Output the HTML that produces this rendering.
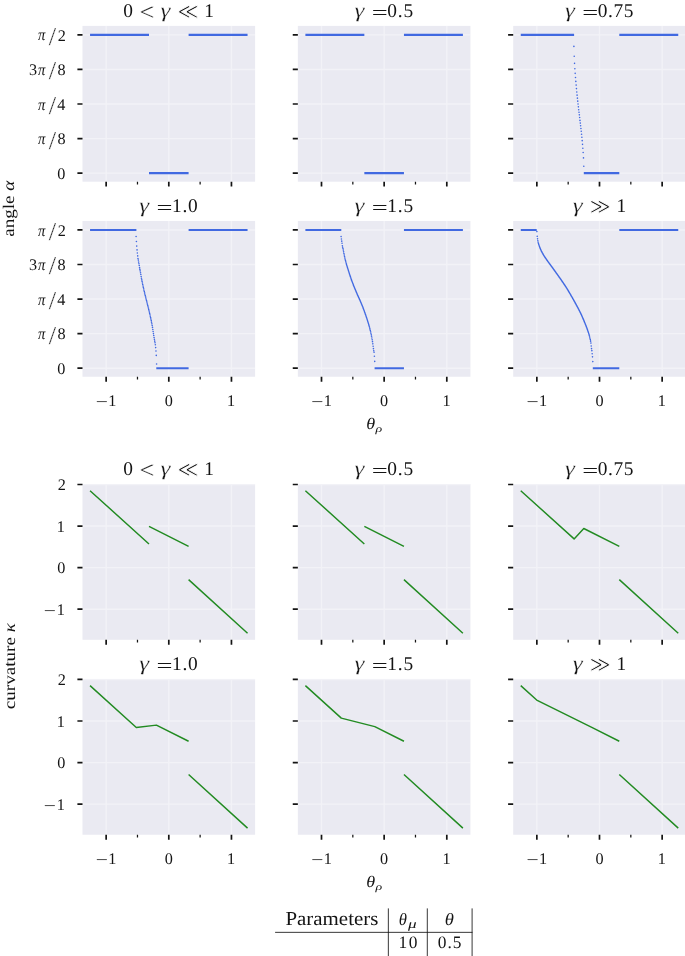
<!DOCTYPE html>
<html lang="en"><head><meta charset="utf-8"><title>angle and curvature</title>
<style>html,body{margin:0;padding:0;background:#fff}body{width:685px;height:956px;overflow:hidden}</style></head>
<body>
<svg width="685" height="956" viewBox="0 0 685 956" text-rendering="geometricPrecision" style="display:block;font-family:'Liberation Serif','DejaVu Serif',serif">
<rect width="685" height="956" fill="#fff"/>
<rect x="82.5" y="25.9" width="172.6" height="155.8" fill="#EAEAF2"/>
<path d="M106.15 25.9V181.7M168.8 25.9V181.7M231.45 25.9V181.7M82.5 34.9H255.1M82.5 69.46H255.1M82.5 104.02H255.1M82.5 138.58H255.1M82.5 173.14H255.1" stroke="#fff" stroke-width="1.4" stroke-opacity="0.4" fill="none"/>
<path d="M106.15 181.7v4.9M168.8 181.7v4.9M231.45 181.7v4.9M82.5 34.9h-5.1M82.5 69.46h-5.1M82.5 104.02h-5.1M82.5 138.58h-5.1M82.5 173.14h-5.1" stroke="#141414" stroke-width="1.7" fill="none"/>
<path d="M137.48 181.7v2.8M200.12 181.7v2.8" stroke="#141414" stroke-width="1.25" fill="none"/>
<path d="M90.05 34.9H149M149 173.14H188.6M188.6 34.9H247.55" stroke="#4169E1" stroke-width="2.1" fill="none"/>
<rect x="297.85" y="25.9" width="172.6" height="155.8" fill="#EAEAF2"/>
<path d="M321.5 25.9V181.7M384.15 25.9V181.7M446.8 25.9V181.7M297.85 34.9H470.45M297.85 69.46H470.45M297.85 104.02H470.45M297.85 138.58H470.45M297.85 173.14H470.45" stroke="#fff" stroke-width="1.4" stroke-opacity="0.4" fill="none"/>
<path d="M321.5 181.7v4.9M384.15 181.7v4.9M446.8 181.7v4.9M297.85 34.9h-5.1M297.85 69.46h-5.1M297.85 104.02h-5.1M297.85 138.58h-5.1M297.85 173.14h-5.1" stroke="#141414" stroke-width="1.7" fill="none"/>
<path d="M352.83 181.7v2.8M415.48 181.7v2.8" stroke="#141414" stroke-width="1.25" fill="none"/>
<path d="M305.4 34.9H364.35M364.35 173.14H403.95M403.95 34.9H462.9" stroke="#4169E1" stroke-width="2.1" fill="none"/>
<rect x="513.2" y="25.9" width="172.6" height="155.8" fill="#EAEAF2"/>
<path d="M536.85 25.9V181.7M599.5 25.9V181.7M662.15 25.9V181.7M513.2 34.9H685.8M513.2 69.46H685.8M513.2 104.02H685.8M513.2 138.58H685.8M513.2 173.14H685.8" stroke="#fff" stroke-width="1.4" stroke-opacity="0.4" fill="none"/>
<path d="M536.85 181.7v4.9M599.5 181.7v4.9M662.15 181.7v4.9M513.2 34.9h-5.1M513.2 69.46h-5.1M513.2 104.02h-5.1M513.2 138.58h-5.1M513.2 173.14h-5.1" stroke="#141414" stroke-width="1.7" fill="none"/>
<path d="M568.17 181.7v2.8M630.83 181.7v2.8" stroke="#141414" stroke-width="1.25" fill="none"/>
<path d="M520.75 34.9H574.1M583.8 173.14H619.3M619.3 34.9H678.25" stroke="#4169E1" stroke-width="2.1" fill="none"/>
<path d="M573.9 46.42h0M574.22 56.3h0M574.54 63.33h0M574.86 68.68h0M575.18 73.37h0M575.5 77.55h0M575.82 81.4h0M576.14 85.08h0M576.45 88.6h0M576.77 91.95h0M577.09 95.13h0M577.41 98.14h0M577.73 101.15h0M578.05 104h0M578.37 106.84h0M578.69 109.69h0M579.01 112.2h0M579.33 114.87h0M579.65 117.55h0M579.97 120.4h0M580.29 123.08h0M580.61 125.75h0M580.93 128.43h0M581.25 131.28h0M581.56 134.29h0M581.88 137.3h0M582.2 140.65h0M582.52 144.33h0M582.84 148.18h0M583.16 152.53h0M583.48 157.89h0M583.8 166.26h0" stroke="#4169E1" stroke-width="1.6" stroke-linecap="round" fill="none"/>
<rect x="82.5" y="220.95" width="172.6" height="155.8" fill="#EAEAF2"/>
<path d="M106.15 220.95V376.75M168.8 220.95V376.75M231.45 220.95V376.75M82.5 229.95H255.1M82.5 264.51H255.1M82.5 299.07H255.1M82.5 333.63H255.1M82.5 368.19H255.1" stroke="#fff" stroke-width="1.4" stroke-opacity="0.4" fill="none"/>
<path d="M106.15 376.75v4.9M168.8 376.75v4.9M231.45 376.75v4.9M82.5 229.95h-5.1M82.5 264.51h-5.1M82.5 299.07h-5.1M82.5 333.63h-5.1M82.5 368.19h-5.1" stroke="#141414" stroke-width="1.7" fill="none"/>
<path d="M137.48 376.75v2.8M200.12 376.75v2.8" stroke="#141414" stroke-width="1.25" fill="none"/>
<path d="M90.05 229.95H136.4M156.3 368.19H188.6M188.6 229.95H247.55" stroke="#4169E1" stroke-width="2.1" fill="none"/>
<path d="M136.1 236.5h0M136.42 241.53h0M136.73 246.09h0M137.05 249.92h0M137.36 253.04h0M137.68 255.9h0M137.99 258.45h0M138.31 260.1h0M138.62 262.12h0M138.94 263.72h0M139.25 265.49h0M139.57 267.67h0M139.88 269.41h0M140.2 270.92h0M140.52 272.69h0M140.83 274.57h0M141.15 276.44h0M141.46 278.2h0M141.78 279.83h0M142.09 281.41h0M142.41 282.95h0M142.72 284.46h0M143.04 285.93h0M143.35 287.38h0M143.67 288.8h0M143.98 290.19h0M144.3 291.57h0M144.62 292.92h0M144.93 294.23h0M145.25 295.51h0M145.56 296.76h0M145.88 297.99h0M146.19 299.21h0M146.51 300.44h0M146.82 301.68h0M147.14 302.93h0M147.45 304.22h0M147.77 305.51h0M148.08 306.8h0M148.4 308.1h0M148.72 309.4h0M149.03 310.71h0M149.35 312.04h0M149.66 313.39h0M149.98 314.77h0M150.29 316.18h0M150.61 317.64h0M150.92 319.12h0M151.24 320.64h0M151.55 322.21h0M151.87 323.85h0M152.18 325.56h0M152.5 327.4h0M152.82 329.43h0M153.13 331.55h0M153.45 333.59h0M153.76 335.55h0M154.08 337.46h0M154.39 339.34h0M154.71 341.16h0M155.02 342.8h0M155.34 344.75h0M155.65 347.6h0M155.97 351.01h0M156.28 355.39h0M156.6 364h0" stroke="#4169E1" stroke-width="1.6" stroke-linecap="round" fill="none"/>
<rect x="297.85" y="220.95" width="172.6" height="155.8" fill="#EAEAF2"/>
<path d="M321.5 220.95V376.75M384.15 220.95V376.75M446.8 220.95V376.75M297.85 229.95H470.45M297.85 264.51H470.45M297.85 299.07H470.45M297.85 333.63H470.45M297.85 368.19H470.45" stroke="#fff" stroke-width="1.4" stroke-opacity="0.4" fill="none"/>
<path d="M321.5 376.75v4.9M384.15 376.75v4.9M446.8 376.75v4.9M297.85 229.95h-5.1M297.85 264.51h-5.1M297.85 299.07h-5.1M297.85 333.63h-5.1M297.85 368.19h-5.1" stroke="#141414" stroke-width="1.7" fill="none"/>
<path d="M352.83 376.75v2.8M415.48 376.75v2.8" stroke="#141414" stroke-width="1.25" fill="none"/>
<path d="M305.4 229.95H341.3M374.6 368.19H403.95M403.95 229.95H462.9" stroke="#4169E1" stroke-width="2.1" fill="none"/>
<path d="M341.1 236.6h0M341.41 238.97h0M341.73 241.17h0M342.04 243.31h0M342.36 245.74h0M342.67 247.25h0M342.98 248.53h0M343.3 250.12h0M343.61 251.86h0M343.93 253.53h0M344.24 255.05h0M344.55 256.52h0M344.87 257.94h0M345.18 259.3h0M345.5 260.6h0M345.81 261.84h0M346.12 263.01h0M346.44 264.13h0M346.75 265.21h0M347.07 266.25h0M347.38 267.27h0M347.69 268.27h0M348.01 269.26h0M348.32 270.25h0M348.64 271.25h0M348.95 272.25h0M349.26 273.24h0M349.58 274.22h0M349.89 275.2h0M350.21 276.16h0M350.52 277.12h0M350.83 278.05h0M351.15 278.97h0M351.46 279.88h0M351.78 280.76h0M352.09 281.62h0M352.4 282.47h0M352.72 283.3h0M353.03 284.12h0M353.35 284.92h0M353.66 285.72h0M353.97 286.5h0M354.29 287.28h0M354.6 288.05h0M354.92 288.81h0M355.23 289.57h0M355.54 290.32h0M355.86 291.07h0M356.17 291.82h0M356.49 292.57h0M356.8 293.31h0M357.11 294.04h0M357.43 294.75h0M357.74 295.46h0M358.06 296.15h0M358.37 296.85h0M358.69 297.54h0M359 298.22h0M359.31 298.91h0M359.63 299.6h0M359.94 300.3h0M360.26 301h0M360.57 301.72h0M360.88 302.44h0M361.2 303.18h0M361.51 303.94h0M361.83 304.71h0M362.14 305.5h0M362.45 306.29h0M362.77 307.1h0M363.08 307.92h0M363.4 308.76h0M363.71 309.6h0M364.02 310.45h0M364.34 311.31h0M364.65 312.19h0M364.97 313.07h0M365.28 313.96h0M365.59 314.85h0M365.91 315.76h0M366.22 316.68h0M366.54 317.62h0M366.85 318.57h0M367.16 319.53h0M367.48 320.52h0M367.79 321.52h0M368.11 322.55h0M368.42 323.58h0M368.73 324.63h0M369.05 325.7h0M369.36 326.81h0M369.68 327.96h0M369.99 329.16h0M370.3 330.43h0M370.62 331.77h0M370.93 333.19h0M371.25 334.69h0M371.56 336.27h0M371.87 337.93h0M372.19 339.71h0M372.5 341.66h0M372.82 343.86h0M373.13 346.32h0M373.44 348.65h0M373.76 350.73h0M374.07 352.26h0M374.39 356.26h0M374.7 361.4h0" stroke="#4169E1" stroke-width="1.6" stroke-linecap="round" fill="none"/>
<rect x="513.2" y="220.95" width="172.6" height="155.8" fill="#EAEAF2"/>
<path d="M536.85 220.95V376.75M599.5 220.95V376.75M662.15 220.95V376.75M513.2 229.95H685.8M513.2 264.51H685.8M513.2 299.07H685.8M513.2 333.63H685.8M513.2 368.19H685.8" stroke="#fff" stroke-width="1.4" stroke-opacity="0.4" fill="none"/>
<path d="M536.85 376.75v4.9M599.5 376.75v4.9M662.15 376.75v4.9M513.2 229.95h-5.1M513.2 264.51h-5.1M513.2 299.07h-5.1M513.2 333.63h-5.1M513.2 368.19h-5.1" stroke="#141414" stroke-width="1.7" fill="none"/>
<path d="M568.17 376.75v2.8M630.83 376.75v2.8" stroke="#141414" stroke-width="1.25" fill="none"/>
<path d="M520.75 229.95H536.7M592.8 368.19H619.3M619.3 229.95H678.25" stroke="#4169E1" stroke-width="2.1" fill="none"/>
<path d="M536.9 231.6h0M537.21 236.33h0M537.53 238.87h0M537.84 240.75h0M538.16 242.21h0M538.47 243.49h0M538.78 244.61h0M539.1 245.6h0M539.41 246.5h0M539.73 247.33h0M540.04 248.11h0M540.35 248.87h0M540.67 249.59h0M540.98 250.28h0M541.3 250.93h0M541.61 251.56h0M541.92 252.16h0M542.24 252.74h0M542.55 253.3h0M542.87 253.85h0M543.18 254.39h0M543.49 254.93h0M543.81 255.46h0M544.12 255.96h0M544.44 256.46h0M544.75 256.95h0M545.07 257.42h0M545.38 257.89h0M545.69 258.35h0M546.01 258.81h0M546.32 259.26h0M546.64 259.71h0M546.95 260.16h0M547.26 260.6h0M547.58 261.05h0M547.89 261.5h0M548.21 261.93h0M548.52 262.37h0M548.83 262.8h0M549.15 263.22h0M549.46 263.65h0M549.78 264.07h0M550.09 264.49h0M550.4 264.91h0M550.72 265.33h0M551.03 265.76h0M551.35 266.19h0M551.66 266.62h0M551.97 267.05h0M552.29 267.49h0M552.6 267.92h0M552.92 268.36h0M553.23 268.79h0M553.54 269.23h0M553.86 269.67h0M554.17 270.11h0M554.49 270.54h0M554.8 270.98h0M555.11 271.42h0M555.43 271.86h0M555.74 272.3h0M556.06 272.74h0M556.37 273.18h0M556.68 273.62h0M557 274.06h0M557.31 274.5h0M557.63 274.94h0M557.94 275.37h0M558.26 275.81h0M558.57 276.25h0M558.88 276.69h0M559.2 277.13h0M559.51 277.57h0M559.83 278.01h0M560.14 278.46h0M560.45 278.9h0M560.77 279.35h0M561.08 279.8h0M561.4 280.26h0M561.71 280.71h0M562.02 281.17h0M562.34 281.63h0M562.65 282.09h0M562.97 282.56h0M563.28 283.02h0M563.59 283.48h0M563.91 283.95h0M564.22 284.42h0M564.54 284.89h0M564.85 285.37h0M565.16 285.85h0M565.48 286.33h0M565.79 286.82h0M566.11 287.31h0M566.42 287.8h0M566.73 288.3h0M567.05 288.8h0M567.36 289.3h0M567.68 289.82h0M567.99 290.33h0M568.3 290.86h0M568.62 291.38h0M568.93 291.91h0M569.25 292.44h0M569.56 292.98h0M569.87 293.51h0M570.19 294.05h0M570.5 294.6h0M570.82 295.14h0M571.13 295.68h0M571.44 296.22h0M571.76 296.77h0M572.07 297.32h0M572.39 297.87h0M572.7 298.42h0M573.02 298.97h0M573.33 299.53h0M573.64 300.09h0M573.96 300.65h0M574.27 301.21h0M574.59 301.78h0M574.9 302.35h0M575.21 302.92h0M575.53 303.5h0M575.84 304.08h0M576.16 304.66h0M576.47 305.23h0M576.78 305.81h0M577.1 306.39h0M577.41 306.98h0M577.73 307.56h0M578.04 308.15h0M578.35 308.74h0M578.67 309.34h0M578.98 309.95h0M579.3 310.56h0M579.61 311.18h0M579.92 311.81h0M580.24 312.44h0M580.55 313.09h0M580.87 313.75h0M581.18 314.42h0M581.49 315.1h0M581.81 315.8h0M582.12 316.5h0M582.44 317.21h0M582.75 317.93h0M583.06 318.66h0M583.38 319.4h0M583.69 320.15h0M584.01 320.91h0M584.32 321.67h0M584.63 322.44h0M584.95 323.21h0M585.26 323.99h0M585.58 324.78h0M585.89 325.57h0M586.21 326.38h0M586.52 327.2h0M586.83 328.05h0M587.15 328.91h0M587.46 329.8h0M587.78 330.73h0M588.09 331.67h0M588.4 332.62h0M588.72 333.61h0M589.03 334.65h0M589.35 335.75h0M589.66 336.93h0M589.97 338.21h0M590.29 339.59h0M590.6 341.17h0M590.92 343.11h0M591.23 346.04h0M591.54 348.61h0M591.86 350.67h0M592.17 353.71h0M592.49 356.83h0M592.8 361.6h0" stroke="#4169E1" stroke-width="1.6" stroke-linecap="round" fill="none"/>
<rect x="82.5" y="484" width="172.6" height="155.8" fill="#EAEAF2"/>
<path d="M106.15 484V639.8M168.8 484V639.8M231.45 484V639.8M82.5 484.5H255.1M82.5 526.07H255.1M82.5 567.64H255.1M82.5 609.21H255.1" stroke="#fff" stroke-width="1.4" stroke-opacity="0.4" fill="none"/>
<path d="M106.15 639.8v4.9M168.8 639.8v4.9M231.45 639.8v4.9M82.5 484.5h-5.1M82.5 526.07h-5.1M82.5 567.64h-5.1M82.5 609.21h-5.1" stroke="#141414" stroke-width="1.7" fill="none"/>
<path d="M137.48 639.8v2.8M200.12 639.8v2.8" stroke="#141414" stroke-width="1.25" fill="none"/>
<path d="M90.05 490.7L149 543.96M149 526.45L188.6 546.3M188.6 579.6L247.55 633.19" stroke="#228B22" stroke-width="1.45" fill="none" stroke-linejoin="round"/>
<rect x="297.85" y="484" width="172.6" height="155.8" fill="#EAEAF2"/>
<path d="M321.5 484V639.8M384.15 484V639.8M446.8 484V639.8M297.85 484.5H470.45M297.85 526.07H470.45M297.85 567.64H470.45M297.85 609.21H470.45" stroke="#fff" stroke-width="1.4" stroke-opacity="0.4" fill="none"/>
<path d="M321.5 639.8v4.9M384.15 639.8v4.9M446.8 639.8v4.9M297.85 484.5h-5.1M297.85 526.07h-5.1M297.85 567.64h-5.1M297.85 609.21h-5.1" stroke="#141414" stroke-width="1.7" fill="none"/>
<path d="M352.83 639.8v2.8M415.48 639.8v2.8" stroke="#141414" stroke-width="1.25" fill="none"/>
<path d="M305.4 490.7L364.35 543.96M364.35 526.45L403.95 546.3M403.95 579.6L462.9 633.19" stroke="#228B22" stroke-width="1.45" fill="none" stroke-linejoin="round"/>
<rect x="513.2" y="484" width="172.6" height="155.8" fill="#EAEAF2"/>
<path d="M536.85 484V639.8M599.5 484V639.8M662.15 484V639.8M513.2 484.5H685.8M513.2 526.07H685.8M513.2 567.64H685.8M513.2 609.21H685.8" stroke="#fff" stroke-width="1.4" stroke-opacity="0.4" fill="none"/>
<path d="M536.85 639.8v4.9M599.5 639.8v4.9M662.15 639.8v4.9M513.2 484.5h-5.1M513.2 526.07h-5.1M513.2 567.64h-5.1M513.2 609.21h-5.1" stroke="#141414" stroke-width="1.7" fill="none"/>
<path d="M568.17 639.8v2.8M630.83 639.8v2.8" stroke="#141414" stroke-width="1.25" fill="none"/>
<path d="M520.75 490.7L574.1 538.9L583.8 528.51L619.3 546.3M619.3 579.6L678.25 633.19" stroke="#228B22" stroke-width="1.45" fill="none" stroke-linejoin="round"/>
<rect x="82.5" y="678.95" width="172.6" height="155.8" fill="#EAEAF2"/>
<path d="M106.15 678.95V834.75M168.8 678.95V834.75M231.45 678.95V834.75M82.5 679.45H255.1M82.5 721.02H255.1M82.5 762.59H255.1M82.5 804.16H255.1" stroke="#fff" stroke-width="1.4" stroke-opacity="0.4" fill="none"/>
<path d="M106.15 834.75v4.9M168.8 834.75v4.9M231.45 834.75v4.9M82.5 679.45h-5.1M82.5 721.02h-5.1M82.5 762.59h-5.1M82.5 804.16h-5.1" stroke="#141414" stroke-width="1.7" fill="none"/>
<path d="M137.48 834.75v2.8M200.12 834.75v2.8" stroke="#141414" stroke-width="1.25" fill="none"/>
<path d="M90.05 685.65L136.3 727.44L156.4 725.11L188.6 741.25M188.6 774.55L247.55 828.14" stroke="#228B22" stroke-width="1.45" fill="none" stroke-linejoin="round"/>
<rect x="297.85" y="678.95" width="172.6" height="155.8" fill="#EAEAF2"/>
<path d="M321.5 678.95V834.75M384.15 678.95V834.75M446.8 678.95V834.75M297.85 679.45H470.45M297.85 721.02H470.45M297.85 762.59H470.45M297.85 804.16H470.45" stroke="#fff" stroke-width="1.4" stroke-opacity="0.4" fill="none"/>
<path d="M321.5 834.75v4.9M384.15 834.75v4.9M446.8 834.75v4.9M297.85 679.45h-5.1M297.85 721.02h-5.1M297.85 762.59h-5.1M297.85 804.16h-5.1" stroke="#141414" stroke-width="1.7" fill="none"/>
<path d="M352.83 834.75v2.8M415.48 834.75v2.8" stroke="#141414" stroke-width="1.25" fill="none"/>
<path d="M305.4 685.65L341.3 718.09L374.8 726.64L403.95 741.25M403.95 774.55L462.9 828.14" stroke="#228B22" stroke-width="1.45" fill="none" stroke-linejoin="round"/>
<rect x="513.2" y="678.95" width="172.6" height="155.8" fill="#EAEAF2"/>
<path d="M536.85 678.95V834.75M599.5 678.95V834.75M662.15 678.95V834.75M513.2 679.45H685.8M513.2 721.02H685.8M513.2 762.59H685.8M513.2 804.16H685.8" stroke="#fff" stroke-width="1.4" stroke-opacity="0.4" fill="none"/>
<path d="M536.85 834.75v4.9M599.5 834.75v4.9M662.15 834.75v4.9M513.2 679.45h-5.1M513.2 721.02h-5.1M513.2 762.59h-5.1M513.2 804.16h-5.1" stroke="#141414" stroke-width="1.7" fill="none"/>
<path d="M568.17 834.75v2.8M630.83 834.75v2.8" stroke="#141414" stroke-width="1.25" fill="none"/>
<path d="M520.75 685.65L536.7 700.06L592.8 727.97L619.3 741.25M619.3 774.55L678.25 828.14" stroke="#228B22" stroke-width="1.45" fill="none" stroke-linejoin="round"/>
<g fill="#141414">
<g>
<text transform="translate(123.36 17)" font-size="19.4">0</text>
<text transform="matrix(0.529 0 0 0.487 139.53 20.11)" font-size="50" stroke="#fff" stroke-width="0.315">&lt;</text>
<text transform="matrix(0.503 0 0 0.408 160.45 17.26)" font-size="50" font-style="italic" stroke="#fff" stroke-width="0.527">γ</text>
<text transform="matrix(0.403 0 0 0.46 177.44 19.17)" font-size="50" font-family="'DejaVu Sans',sans-serif" stroke="#fff" stroke-width="1.852">≪</text>
<text transform="translate(204.19 17)" font-size="19.4">1</text>
</g>
<g>
<text transform="matrix(0.503 0 0 0.408 354.6 17.26)" font-size="50" font-style="italic" stroke="#fff" stroke-width="0.527">γ</text>
<text transform="matrix(0.567 0 0 0.392 371.84 18.61)" font-size="50">=</text>
<text transform="translate(387.35 17)" font-size="19.4" letter-spacing="0.75">0.5</text>
</g>
<g>
<text transform="matrix(0.503 0 0 0.408 565.05 17.26)" font-size="50" font-style="italic" stroke="#fff" stroke-width="0.527">γ</text>
<text transform="matrix(0.567 0 0 0.392 582.29 18.61)" font-size="50">=</text>
<text transform="translate(597.8 17)" font-size="19.4" letter-spacing="0.55">0.75</text>
</g>
<g>
<text transform="matrix(0.503 0 0 0.408 139.25 212.31)" font-size="50" font-style="italic" stroke="#fff" stroke-width="0.527">γ</text>
<text transform="matrix(0.567 0 0 0.392 156.49 213.66)" font-size="50">=</text>
<text transform="translate(172 212.05)" font-size="19.4" letter-spacing="0.75">1.0</text>
</g>
<g>
<text transform="matrix(0.503 0 0 0.408 354.6 212.31)" font-size="50" font-style="italic" stroke="#fff" stroke-width="0.527">γ</text>
<text transform="matrix(0.567 0 0 0.392 371.84 213.66)" font-size="50">=</text>
<text transform="translate(387.35 212.05)" font-size="19.4" letter-spacing="0.75">1.5</text>
</g>
<g>
<text transform="matrix(0.503 0 0 0.408 572.75 212.31)" font-size="50" font-style="italic" stroke="#fff" stroke-width="0.527">γ</text>
<text transform="matrix(0.403 0 0 0.46 589.44 214.22)" font-size="50" font-family="'DejaVu Sans',sans-serif" stroke="#fff" stroke-width="1.852">≫</text>
<text transform="translate(616.59 212.05)" font-size="19.4">1</text>
</g>
<g>
<text transform="translate(123.36 475.1)" font-size="19.4">0</text>
<text transform="matrix(0.529 0 0 0.487 139.53 478.21)" font-size="50" stroke="#fff" stroke-width="0.315">&lt;</text>
<text transform="matrix(0.503 0 0 0.408 160.45 475.36)" font-size="50" font-style="italic" stroke="#fff" stroke-width="0.527">γ</text>
<text transform="matrix(0.403 0 0 0.46 177.44 477.27)" font-size="50" font-family="'DejaVu Sans',sans-serif" stroke="#fff" stroke-width="1.852">≪</text>
<text transform="translate(204.19 475.1)" font-size="19.4">1</text>
</g>
<g>
<text transform="matrix(0.503 0 0 0.408 354.6 475.36)" font-size="50" font-style="italic" stroke="#fff" stroke-width="0.527">γ</text>
<text transform="matrix(0.567 0 0 0.392 371.84 476.71)" font-size="50">=</text>
<text transform="translate(387.35 475.1)" font-size="19.4" letter-spacing="0.75">0.5</text>
</g>
<g>
<text transform="matrix(0.503 0 0 0.408 565.05 475.36)" font-size="50" font-style="italic" stroke="#fff" stroke-width="0.527">γ</text>
<text transform="matrix(0.567 0 0 0.392 582.29 476.71)" font-size="50">=</text>
<text transform="translate(597.8 475.1)" font-size="19.4" letter-spacing="0.55">0.75</text>
</g>
<g>
<text transform="matrix(0.503 0 0 0.408 139.25 670.31)" font-size="50" font-style="italic" stroke="#fff" stroke-width="0.527">γ</text>
<text transform="matrix(0.567 0 0 0.392 156.49 671.66)" font-size="50">=</text>
<text transform="translate(172 670.05)" font-size="19.4" letter-spacing="0.75">1.0</text>
</g>
<g>
<text transform="matrix(0.503 0 0 0.408 354.6 670.31)" font-size="50" font-style="italic" stroke="#fff" stroke-width="0.527">γ</text>
<text transform="matrix(0.567 0 0 0.392 371.84 671.66)" font-size="50">=</text>
<text transform="translate(387.35 670.05)" font-size="19.4" letter-spacing="0.75">1.5</text>
</g>
<g>
<text transform="matrix(0.503 0 0 0.408 572.75 670.31)" font-size="50" font-style="italic" stroke="#fff" stroke-width="0.527">γ</text>
<text transform="matrix(0.403 0 0 0.46 589.44 672.22)" font-size="50" font-family="'DejaVu Sans',sans-serif" stroke="#fff" stroke-width="1.852">≫</text>
<text transform="translate(616.59 670.05)" font-size="19.4">1</text>
</g>
<text transform="matrix(0.293 0 0 0.322 38.12 40.49)" font-size="50" font-style="italic">π</text>
<text transform="matrix(0.525 0 0 0.517 48.8 44.85)" font-size="50" stroke="#fff" stroke-width="0.575">/</text>
<text transform="translate(57.79 40.5)" font-size="16.2">2</text>
<text transform="translate(29.02 75.06)" font-size="16.2">3</text>
<text transform="matrix(0.293 0 0 0.322 38.12 75.05)" font-size="50" font-style="italic">π</text>
<text transform="matrix(0.525 0 0 0.517 48.8 79.41)" font-size="50" stroke="#fff" stroke-width="0.575">/</text>
<text transform="translate(57.52 75.06)" font-size="16.2">8</text>
<text transform="matrix(0.293 0 0 0.322 38.12 109.61)" font-size="50" font-style="italic">π</text>
<text transform="matrix(0.525 0 0 0.517 48.8 113.97)" font-size="50" stroke="#fff" stroke-width="0.575">/</text>
<text transform="translate(57.15 109.62)" font-size="16.2">4</text>
<text transform="matrix(0.293 0 0 0.322 38.12 144.17)" font-size="50" font-style="italic">π</text>
<text transform="matrix(0.525 0 0 0.517 48.8 148.53)" font-size="50" stroke="#fff" stroke-width="0.575">/</text>
<text transform="translate(57.52 144.18)" font-size="16.2">8</text>
<text transform="translate(57.22 178.74)" font-size="16.2">0</text>
<text transform="matrix(0.293 0 0 0.322 38.12 235.54)" font-size="50" font-style="italic">π</text>
<text transform="matrix(0.525 0 0 0.517 48.8 239.9)" font-size="50" stroke="#fff" stroke-width="0.575">/</text>
<text transform="translate(57.79 235.55)" font-size="16.2">2</text>
<text transform="translate(29.02 270.11)" font-size="16.2">3</text>
<text transform="matrix(0.293 0 0 0.322 38.12 270.1)" font-size="50" font-style="italic">π</text>
<text transform="matrix(0.525 0 0 0.517 48.8 274.46)" font-size="50" stroke="#fff" stroke-width="0.575">/</text>
<text transform="translate(57.52 270.11)" font-size="16.2">8</text>
<text transform="matrix(0.293 0 0 0.322 38.12 304.66)" font-size="50" font-style="italic">π</text>
<text transform="matrix(0.525 0 0 0.517 48.8 309.02)" font-size="50" stroke="#fff" stroke-width="0.575">/</text>
<text transform="translate(57.15 304.67)" font-size="16.2">4</text>
<text transform="matrix(0.293 0 0 0.322 38.12 339.22)" font-size="50" font-style="italic">π</text>
<text transform="matrix(0.525 0 0 0.517 48.8 343.58)" font-size="50" stroke="#fff" stroke-width="0.575">/</text>
<text transform="translate(57.52 339.23)" font-size="16.2">8</text>
<text transform="translate(57.22 373.79)" font-size="16.2">0</text>
<text transform="translate(57.69 490.1)" font-size="16.2">2</text>
<text transform="translate(56.68 531.67)" font-size="16.2">1</text>
<text transform="translate(57.22 573.24)" font-size="16.2">0</text>
<text transform="matrix(0.43 0 0 0.321 43.83 615.99)" font-size="50">−</text>
<text transform="translate(56.68 614.81)" font-size="16.2">1</text>
<text transform="translate(57.69 685.05)" font-size="16.2">2</text>
<text transform="translate(56.68 726.62)" font-size="16.2">1</text>
<text transform="translate(57.22 768.19)" font-size="16.2">0</text>
<text transform="matrix(0.43 0 0 0.321 43.83 810.94)" font-size="50">−</text>
<text transform="translate(56.68 809.76)" font-size="16.2">1</text>
<text transform="matrix(0.43 0 0 0.321 95.83 406.83)" font-size="50">−</text>
<text transform="translate(108.33 405.65)" font-size="16.2">1</text>
<text transform="translate(164.75 405.65)" font-size="16.2">0</text>
<text transform="translate(227.08 405.65)" font-size="16.2">1</text>
<text transform="matrix(0.43 0 0 0.321 311.18 406.83)" font-size="50">−</text>
<text transform="translate(323.68 405.65)" font-size="16.2">1</text>
<text transform="translate(380.1 405.65)" font-size="16.2">0</text>
<text transform="translate(442.43 405.65)" font-size="16.2">1</text>
<text transform="matrix(0.43 0 0 0.321 526.53 406.83)" font-size="50">−</text>
<text transform="translate(539.03 405.65)" font-size="16.2">1</text>
<text transform="translate(595.45 405.65)" font-size="16.2">0</text>
<text transform="translate(657.78 405.65)" font-size="16.2">1</text>
<text transform="matrix(0.43 0 0 0.321 95.83 864.83)" font-size="50">−</text>
<text transform="translate(108.33 863.65)" font-size="16.2">1</text>
<text transform="translate(164.75 863.65)" font-size="16.2">0</text>
<text transform="translate(227.08 863.65)" font-size="16.2">1</text>
<text transform="matrix(0.43 0 0 0.321 311.18 864.83)" font-size="50">−</text>
<text transform="translate(323.68 863.65)" font-size="16.2">1</text>
<text transform="translate(380.1 863.65)" font-size="16.2">0</text>
<text transform="translate(442.43 863.65)" font-size="16.2">1</text>
<text transform="matrix(0.43 0 0 0.321 526.53 864.83)" font-size="50">−</text>
<text transform="translate(539.03 863.65)" font-size="16.2">1</text>
<text transform="translate(595.45 863.65)" font-size="16.2">0</text>
<text transform="translate(657.78 863.65)" font-size="16.2">1</text>
<text transform="matrix(0.363 0 0 0.324 366.26 429.34)" font-size="50" font-style="italic">θ</text>
<text transform="matrix(0.278 0 0 0.208 375.55 432.28)" font-size="50" font-style="italic">ρ</text>
<text transform="matrix(0.363 0 0 0.324 366.26 887.14)" font-size="50" font-style="italic">θ</text>
<text transform="matrix(0.278 0 0 0.208 375.55 890.08)" font-size="50" font-style="italic">ρ</text>
<text transform="translate(14.4 208.7) rotate(-90) scale(1.18 1)" font-size="16.2" text-anchor="middle">angle <tspan font-style="italic">α</tspan></text>
<text transform="translate(15.2 666.2) rotate(-90) scale(1.18 1)" font-size="16.2" text-anchor="middle">curvature <tspan font-style="italic">κ</tspan></text>
<text transform="translate(285.4 925.1) scale(1.058 1)" font-size="19.8">Parameters</text>
<text transform="matrix(0.334 0 0 0.347 398.63 925.03)" font-size="50" font-style="italic">θ</text>
<text transform="matrix(0.345 0 0 0.25 407.92 927.73)" font-size="50" font-style="italic">μ</text>
<text transform="matrix(0.372 0 0 0.347 444.74 925.03)" font-size="50" font-style="italic">θ</text>
<text transform="translate(398.57 948.4)" font-size="17.4" letter-spacing="1.4">10</text>
<text transform="translate(437.79 948.4)" font-size="17.4" letter-spacing="0.95">0.5</text>
</g>
<path d="M275.1 932.35H472.5M388.35 908.4V956M427.3 908.4V956M472.1 908.4V956" stroke="#141414" stroke-width="0.85" fill="none"/>
</svg>
</body></html>
